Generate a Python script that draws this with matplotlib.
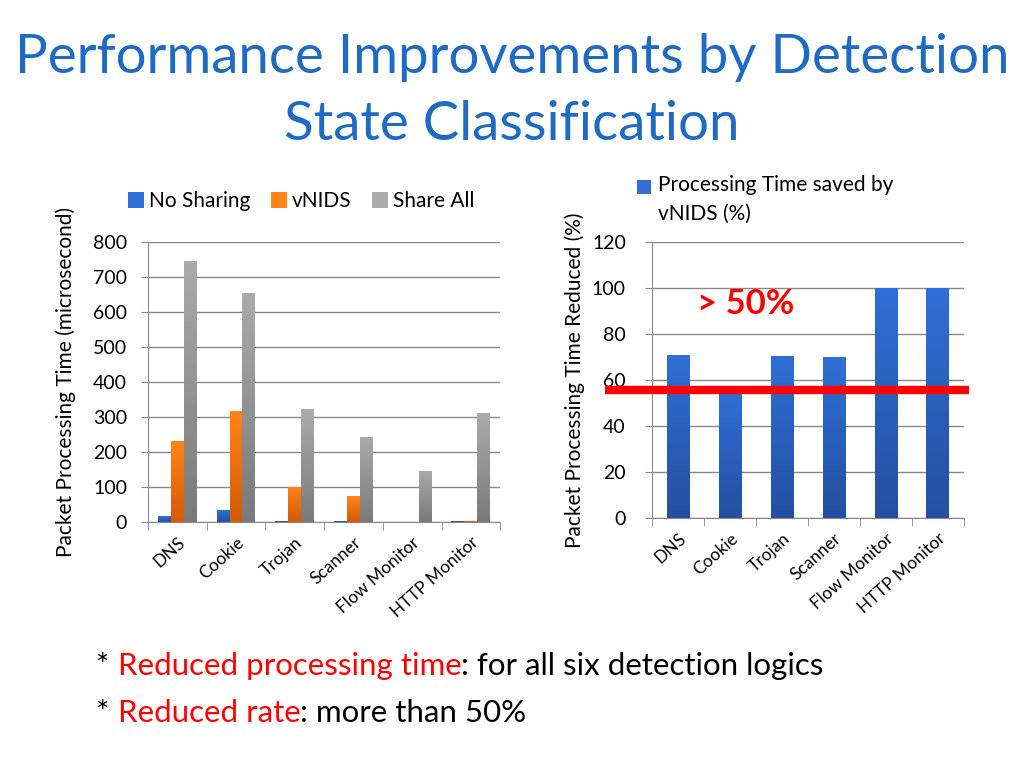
import matplotlib.pyplot as plt
import numpy as np
from matplotlib.colors import LinearSegmentedColormap
from matplotlib.patches import Rectangle
from matplotlib.transforms import blended_transform_factory

plt.rcParams['font.family'] = ['Lato', 'DejaVu Sans']

# data
categories = ['DNS', 'Cookie', 'Trojan', 'Scanner', 'Flow Monitor', 'HTTP Monitor']
no_sharing = [17, 34, 3, 3, 0, 3]
vnids = [231, 317, 100, 74, 0, 3]
share_all = [746, 654, 323, 243, 146, 311]
saved_pct = [71, 55, 70.5, 70, 100, 100]

series = [('No Sharing', no_sharing, '#2F6FD6', '#2450A0'),
          ('vNIDS', vnids, '#FF8418', '#D35A08'),
          ('Share All', share_all, '#ABABAB', '#7A7A7A')]


def gradient_bars(ax, bars, top, bottom):
    cmap = LinearSegmentedColormap.from_list('g', [bottom, top])
    grad = np.linspace(0, 1, 64).reshape(-1, 1)
    for b in bars:
        x0, y0 = b.get_x(), b.get_y()
        w, h = b.get_width(), b.get_height()
        if h <= 0:
            continue
        im = ax.imshow(grad, cmap=cmap, origin='lower', aspect='auto',
                       extent=(x0, x0 + w, y0, y0 + h), zorder=3)
        im.set_clip_path(b)


def style_axes(ax, n, ypad):
    ax.set_xlim(-0.5, n - 0.5)
    ax.set_xticks(range(n))
    ax.set_xticks(np.arange(-0.5, n, 1), minor=True)
    ax.tick_params(axis='x', which='major', length=0, pad=9)
    ax.tick_params(axis='x', which='minor', length=6, color='#888888', direction='out')
    ax.tick_params(axis='y', length=5, color='#888888', labelsize=14, pad=ypad)
    ax.set_xticklabels(categories, rotation=42, ha='right', rotation_mode='anchor', fontsize=12.5)
    for s in ['top', 'right']:
        ax.spines[s].set_visible(False)
    ax.spines['left'].set_color('#888888')
    ax.spines['bottom'].set_color('#888888')
    ax.grid(axis='y', color='#888888', linewidth=1)
    ax.set_axisbelow(True)


fig = plt.figure(figsize=(10.24, 7.68), dpi=100)

fig.text(0.5, 0.925, 'Performance Improvements by Detection', ha='center', va='center',
         fontsize=39.3, color='#1F6BC4')
fig.text(0.5, 0.838, 'State Classification', ha='center', va='center',
         fontsize=39.3, color='#1F6BC4')

# left chart
ax1 = fig.add_axes([0.1445, 0.3203, 0.344, 0.3646])
x = np.arange(len(categories))
w = 0.22
handles = []
for i, (name, vals, top, bottom) in enumerate(series):
    bars = ax1.bar(x + (i - 1) * w, vals, w, color=top, label=name, zorder=2)
    gradient_bars(ax1, bars, top, bottom)
    handles.append(bars)
ax1.set_ylim(0, 800)
ax1.set_yticks(range(0, 801, 100))
style_axes(ax1, len(categories), 10)
ax1.set_ylabel('Packet Processing Time (microsecond)', fontsize=15, labelpad=12)
ax1.legend(handles=handles, loc='lower left', bbox_to_anchor=(-0.08, 1.08), ncol=3,
           frameon=False, fontsize=15, handlelength=0.75, handleheight=0.75,
           handletextpad=0.25, columnspacing=1.0, borderaxespad=0)

# right chart
ax2 = fig.add_axes([0.637, 0.3255, 0.304, 0.359])
bars2 = ax2.bar(x, saved_pct, 0.43, color='#2F6FD6', zorder=2)
gradient_bars(ax2, bars2, '#2F6FD6', '#2450A0')
ax2.set_ylim(0, 120)
ax2.set_yticks(range(0, 121, 20))
style_axes(ax2, len(categories), 14)
ax2.set_ylabel('Packet Processing Time Reduced (%)', fontsize=15, labelpad=5)

# legend of the right chart: marker aligned with the first text line
ax2.add_patch(Rectangle((-0.048, 1.175), 0.045, 0.05, transform=ax2.transAxes,
                        facecolor='#2F6FD6', edgecolor='none', clip_on=False))
ax2.text(0.019, 1.245, 'Processing Time saved by\nvNIDS (%)', transform=ax2.transAxes,
         fontsize=15, va='top', ha='left', linespacing=1.55)

trans = blended_transform_factory(ax2.transAxes, ax2.transData)
ax2.plot([-0.152, 1.017], [55.5, 55.5], color='#FF0000', linewidth=6,
         transform=trans, clip_on=False, zorder=5, solid_capstyle='butt')
ax2.text(1.3, 93, '> 50%', color='#FF0000', fontsize=25, fontweight='bold',
         ha='center', va='center', zorder=6)

# footnotes: chain pieces of text one after the other
fig.canvas.draw()
renderer = fig.canvas.get_renderer()


def chained(y, parts):
    xpos = 0.094
    for txt, col in parts:
        t = fig.text(xpos, y, txt, color=col, fontsize=22.5, va='center')
        bb = t.get_window_extent(renderer)
        xpos = fig.transFigure.inverted().transform((bb.x1, bb.y0))[0]


chained(0.133, [('* ', 'black'), ('Reduced processing time', '#FF0000'),
                (': for all six detection logics', 'black')])
chained(0.071, [('* ', 'black'), ('Reduced rate', '#FF0000'),
                (': more than 50%', 'black')])

fig.savefig('out.png', dpi=100)
